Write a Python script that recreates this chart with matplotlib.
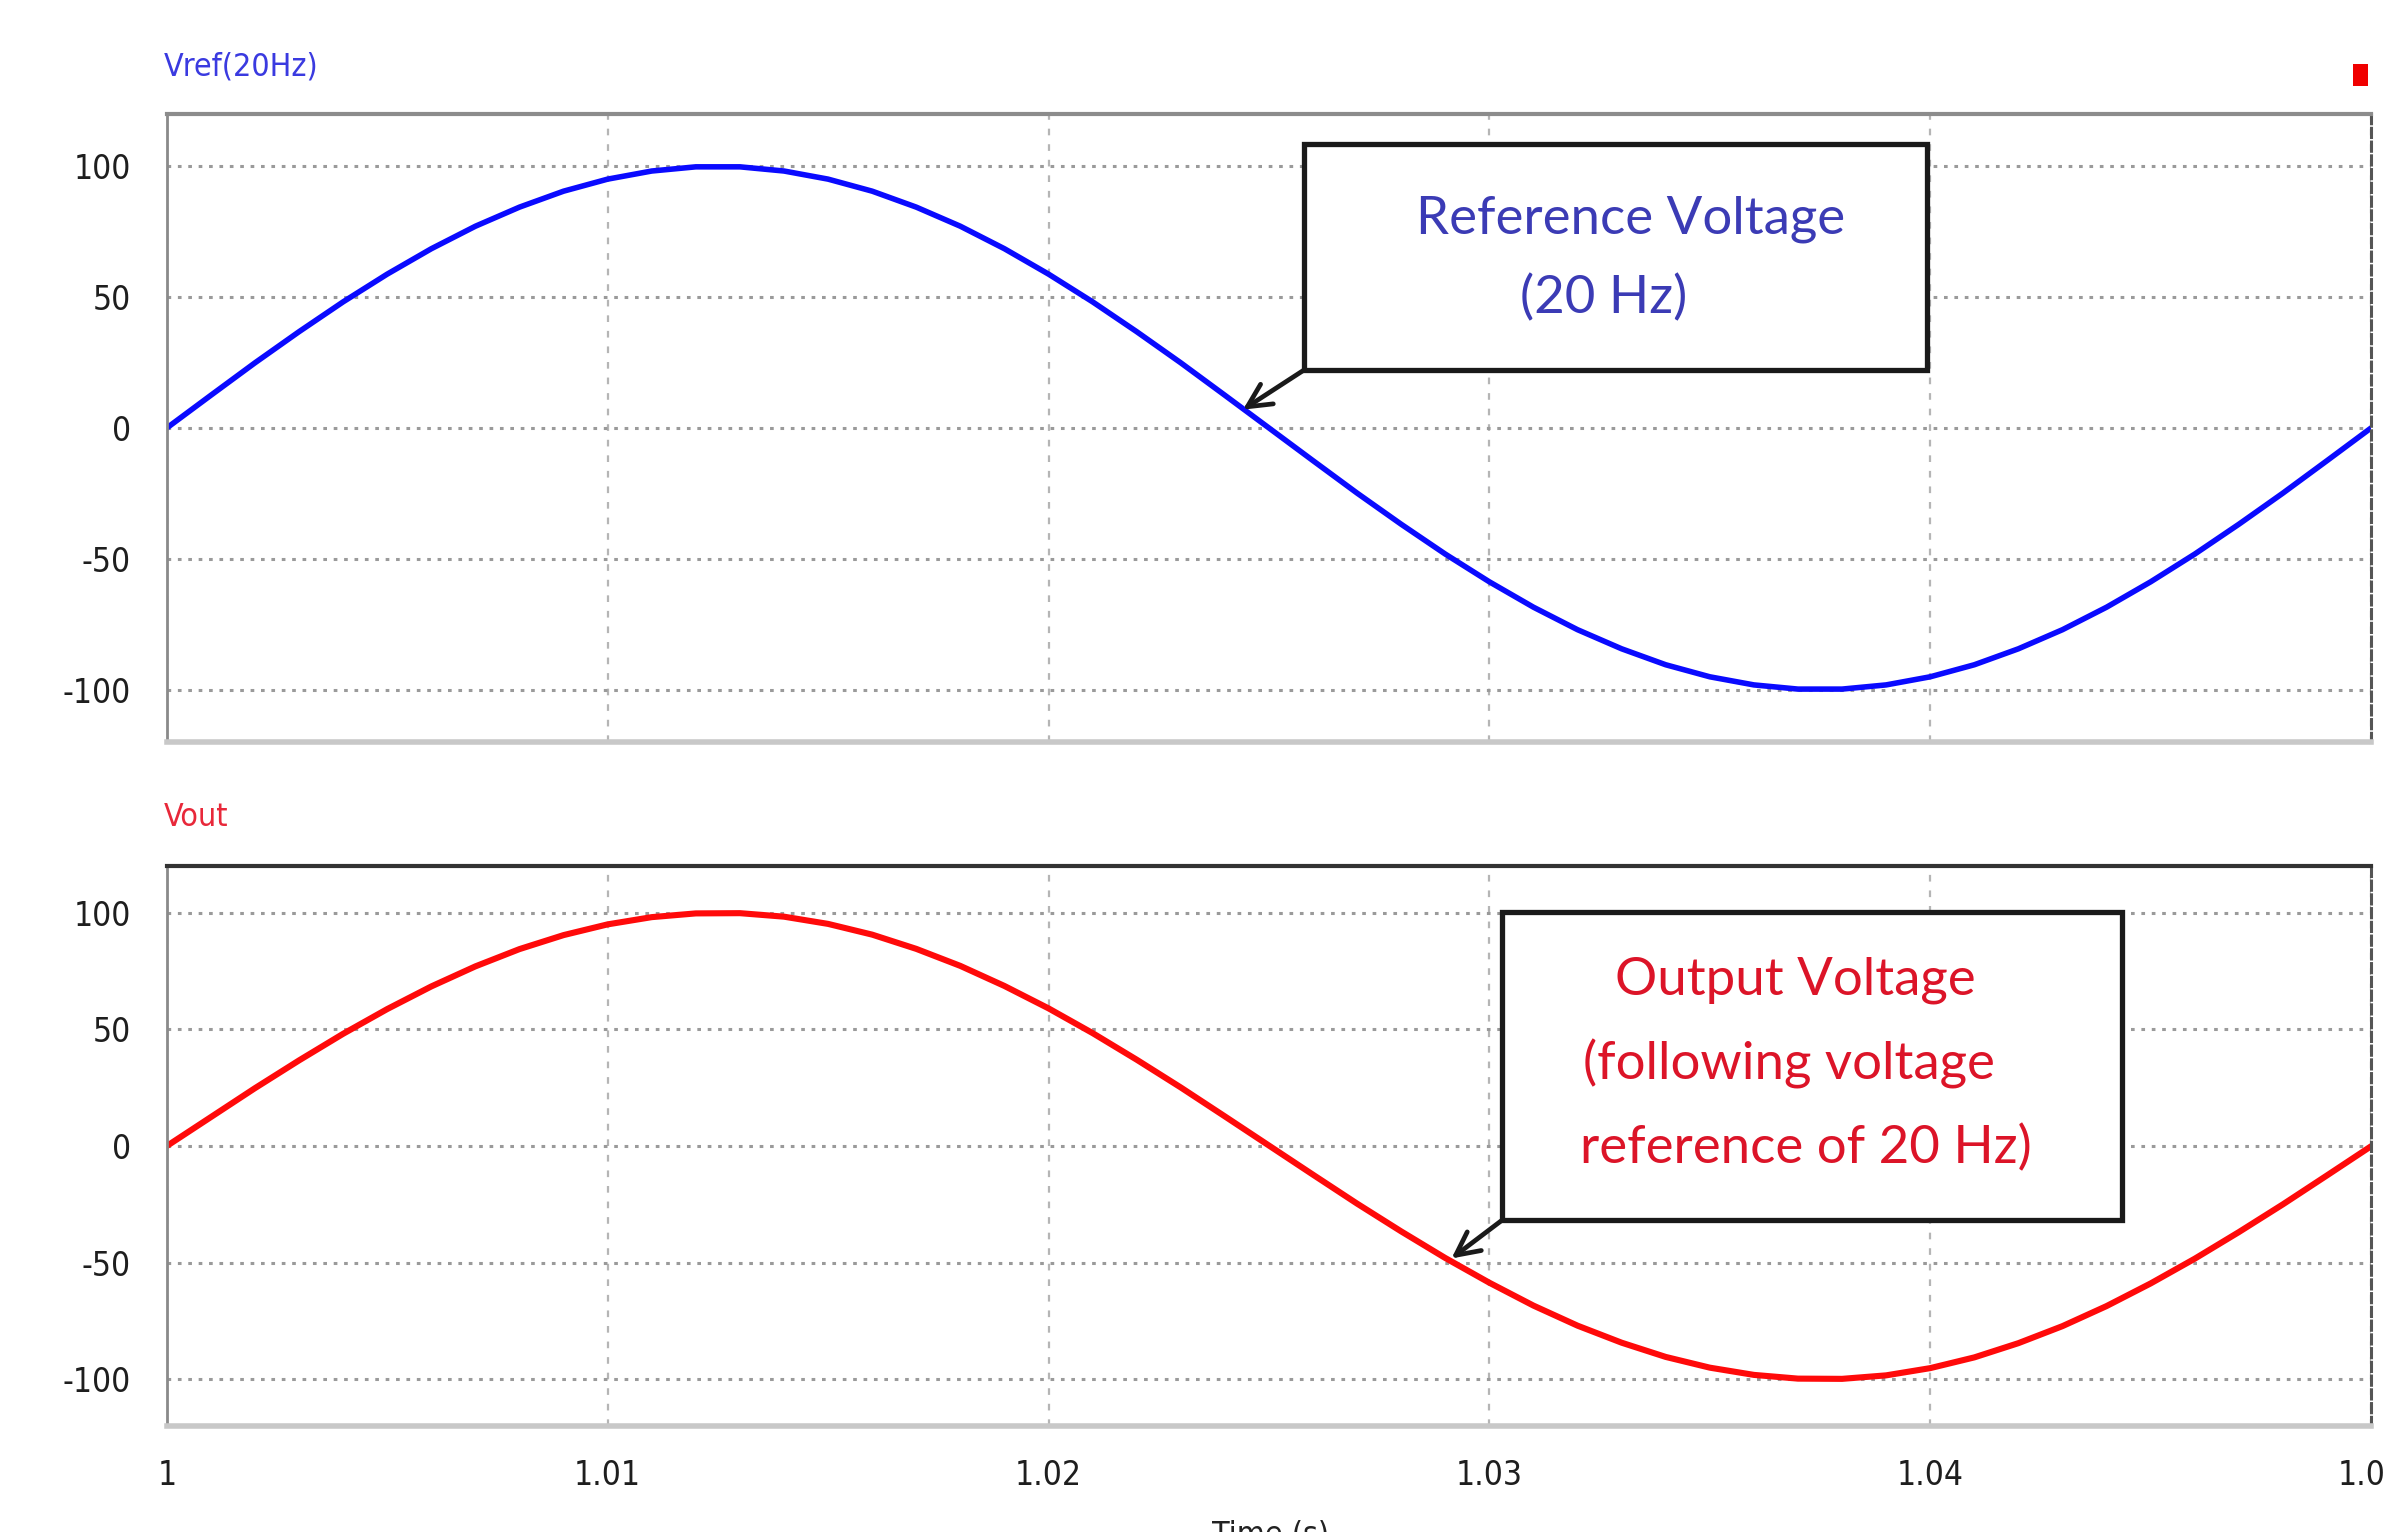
import numpy as np
import matplotlib
matplotlib.use("Agg")
import matplotlib.pyplot as plt
from matplotlib.patches import Rectangle
from matplotlib import font_manager

time_s = np.linspace(1.0, 1.05, 51)
vref = [0, 12.5, 24.9, 36.8, 48.2, 58.8, 68.5, 77.1, 84.4, 90.5, 95.1, 98.2, 99.8,
        99.8, 98.2, 95.1, 90.5, 84.4, 77.1, 68.5, 58.8, 48.2, 36.8, 24.9, 12.5, 0,
        -12.5, -24.9, -36.8, -48.2, -58.8, -68.5, -77.1, -84.4, -90.5, -95.1, -98.2, -99.8,
        -99.8, -98.2, -95.1, -90.5, -84.4, -77.1, -68.5, -58.8, -48.2, -36.8, -24.9, -12.5, 0]
vout = [0, 12.4, 24.8, 36.7, 48.1, 58.7, 68.4, 77.0, 84.4, 90.4, 95.0, 98.1, 99.7,
        99.8, 98.3, 95.2, 90.6, 84.5, 77.2, 68.6, 59.0, 48.4, 37.0, 25.1, 12.7, 0.2,
        -12.3, -24.7, -36.6, -48.0, -58.6, -68.4, -77.0, -84.3, -90.4, -95.0, -98.1, -99.7,
        -99.8, -98.3, -95.2, -90.6, -84.5, -77.2, -68.6, -58.9, -48.3, -36.9, -25.0, -12.6, -0.1]
x_ticks = [1.0, 1.01, 1.02, 1.03, 1.04, 1.05]
x_ticklabels = ["1", "1.01", "1.02", "1.03", "1.04", "1.05"]
y_ticks = [100, 50, 0, -50, -100]
y_ticklabels = ["100", "50", "0", "-50", "-100"]
top_title = "Vref(20Hz)"
bottom_title = "Vout"
x_label = "Time (s)"
top_note = ["Reference Voltage", "(20 Hz)"]
bottom_note = ["Output Voltage", "(following voltage", "reference of 20 Hz)"]

# pick a condensed sans font if one is installed
available = {f.name: f for f in font_manager.fontManager.ttflist}
cond = None
for f in font_manager.fontManager.ttflist:
    if f.name in ("Liberation Sans Narrow", "DejaVu Sans Condensed") or \
       (f.name == "DejaVu Sans" and str(f.stretch) in ("condensed", "semi-condensed", "600", "700")
        and f.weight in (400, "normal") and f.style == "normal"):
        cond = f.fname
        break
if cond is not None:
    tick_fp = font_manager.FontProperties(fname=cond, size=24)
    title_fp = font_manager.FontProperties(fname=cond, size=23)
else:
    tick_fp = font_manager.FontProperties(family=["Liberation Sans", "DejaVu Sans"], size=23)
    title_fp = font_manager.FontProperties(family=["Liberation Sans", "DejaVu Sans"], size=22)

note_font = ["Lato", "DejaVu Sans"]

fig = plt.figure(figsize=(23.83, 15.32), dpi=100)
fig.patch.set_facecolor("white")

ax1 = fig.add_axes([0.070, 0.5157, 0.925, 0.4099])
ax2 = fig.add_axes([0.070, 0.0692, 0.925, 0.3655])


def style(ax, top_color):
    ax.set_xlim(1.0, 1.05)
    ax.set_ylim(-120, 120)
    ax.set_xticks(x_ticks)
    ax.set_yticks(y_ticks)
    ax.set_yticklabels(y_ticklabels, fontproperties=tick_fp, color="#1e1e1e")
    ax.tick_params(axis="both", length=0)
    ax.tick_params(axis="y", pad=26)
    ax.grid(axis="y", color="#9a9a9a", linestyle=(0, (1.2, 2.2)), linewidth=2.2)
    ax.grid(axis="x", color="#b5b5b5", linestyle=(0, (3, 4)), linewidth=1.6)
    ax.set_axisbelow(True)
    ax.spines["top"].set_color(top_color)
    ax.spines["top"].set_linewidth(3)
    ax.spines["left"].set_color("#8a8a8a")
    ax.spines["left"].set_linewidth(2)
    ax.spines["bottom"].set_color("#c8c8c8")
    ax.spines["bottom"].set_linewidth(4)
    ax.spines["right"].set_color("#555555")
    ax.spines["right"].set_linewidth(2.2)
    ax.spines["right"].set_linestyle((0, (3, 1.5)))


style(ax1, "#8c8c8c")
style(ax2, "#333333")
ax1.set_xticklabels([])
ax2.set_xticklabels(x_ticklabels, fontproperties=tick_fp, color="#1e1e1e")
ax2.tick_params(axis="x", pad=24)

ax1.plot(time_s, vref, color="#0a0aff", linewidth=4.0, solid_capstyle="round")
ax2.plot(time_s, vout, color="#ff0a0a", linewidth=4.4, solid_capstyle="round")

fig.text(0.0688, 0.956, top_title, color="#3a3ae0", fontproperties=title_fp,
         ha="left", va="center")
fig.text(0.0688, 0.4665, bottom_title, color="#e8283a", fontproperties=title_fp,
         ha="left", va="center")
fig.text(0.533, -0.002, x_label, color="#222222", fontproperties=title_fp,
         ha="center", va="center")

# small red marker at top right
fig.patches.append(Rectangle((0.9875, 0.944), 0.0062, 0.0145, transform=fig.transFigure,
                             facecolor="#f00000", edgecolor="none"))

# annotation boxes
ax1.add_patch(Rectangle((1.0258, 22.2), 1.03993 - 1.0258, 108.5 - 22.2,
                        facecolor="white", edgecolor="#1a1a1a", linewidth=3.8, zorder=5))
ax1.text(1.03321, 79.9, top_note[0], color="#3b3bb5", family=note_font, fontsize=38,
         ha="center", va="center", zorder=6)
ax1.text(1.03259, 49.6, top_note[1], color="#3b3bb5", family=note_font, fontsize=38,
         ha="center", va="center", zorder=6)
ax1.annotate("", xy=(1.02441, 7.0), xytext=(1.0258, 22.2),
             arrowprops=dict(arrowstyle="->", color="#1a1a1a", lw=3.4,
                             mutation_scale=42, shrinkA=0, shrinkB=0), zorder=6)

ax2.add_patch(Rectangle((1.03028, -31.9), 1.04434 - 1.03028, 100.3 + 31.9,
                        facecolor="white", edgecolor="#1a1a1a", linewidth=3.8, zorder=5))
for txt, xc, yc in zip(bottom_note, [1.03693, 1.03679, 1.03717], [71.0, 35.2, -0.7]):
    ax2.text(xc, yc, txt, color="#dc1428", family=note_font, fontsize=38,
             ha="center", va="center", zorder=6)
ax2.annotate("", xy=(1.02914, -48.2), xytext=(1.03028, -31.9),
             arrowprops=dict(arrowstyle="->", color="#1a1a1a", lw=3.4,
                             mutation_scale=42, shrinkA=0, shrinkB=0), zorder=6)

fig.savefig("out.png", dpi=100, facecolor="white")
